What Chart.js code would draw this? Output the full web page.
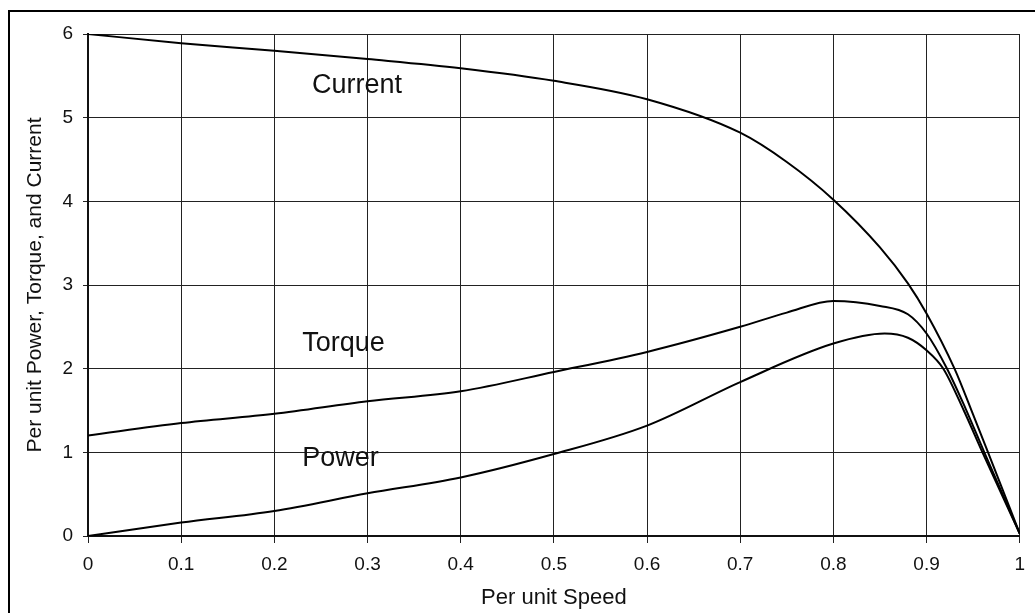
<!DOCTYPE html>
<html>
<head>
<meta charset="utf-8">
<script src="https://cdn.jsdelivr.net/npm/chart.js@4.4.1/dist/chart.umd.min.js"></script>
<style>
  body { margin: 0; background: #fff; }
  #wrap { position: relative; width: 1035px; height: 613px; overflow: hidden; }
  #frame { position: absolute; left: 8px; top: 10px; width: 1100px; height: 700px; border: 2px solid #000; }
  #mycanvas { position: absolute; left: 0; top: 0; }
</style>
</head>
<body>
<div id="wrap">
  <div id="frame"></div>
  <canvas id="mycanvas" width="1035" height="613"></canvas>
</div>
<script>
// values
var currentSpeed = [0, 0.1, 0.2, 0.3, 0.4, 0.5, 0.6, 0.7, 0.75, 0.8, 0.85, 0.88, 0.9, 0.93, 0.95, 0.966, 1.0];
var currentVals  = [6.0, 5.89, 5.8, 5.7, 5.59, 5.44, 5.22, 4.82, 4.47, 4.02, 3.45, 3.02, 2.66, 2.0, 1.45, 1.0, 0.03];

var torqueSpeed = [0, 0.1, 0.2, 0.3, 0.4, 0.5, 0.6, 0.7, 0.75, 0.8, 0.85, 0.88, 0.9, 0.922, 0.942, 0.962, 1.0];
var torqueVals  = [1.2, 1.35, 1.46, 1.61, 1.73, 1.96, 2.2, 2.5, 2.67, 2.81, 2.75, 2.65, 2.42, 2.0, 1.52, 1.0, 0.03];

var powerSpeed = [0, 0.1, 0.2, 0.3, 0.4, 0.5, 0.6, 0.7, 0.8, 0.855, 0.88, 0.9, 0.918, 0.94, 0.96, 1.0];
var powerVals  = [0, 0.16, 0.3, 0.51, 0.7, 0.98, 1.32, 1.84, 2.3, 2.42, 2.37, 2.22, 2.0, 1.5, 1.0, 0.03];

var xTickLabels = ['0', '0.1', '0.2', '0.3', '0.4', '0.5', '0.6', '0.7', '0.8', '0.9', '1'];
var yTickLabels = ['0', '1', '2', '3', '4', '5', '6'];

// curve names and where they sit (data units)
var curveNames = ['Current', 'Torque', 'Power'];
var nameAt = [[0.2405, 5.38], [0.23, 2.3], [0.23, 0.93]];

function pts(xs, ys) {
  var out = [];
  for (var i in xs) out.push({x: xs[i], y: ys[i]});
  return out;
}

var FONT = '"Liberation Sans", Arial, sans-serif';

var curveLabels = {
  id: 'curveLabels',
  afterDatasetsDraw: function(chart) {
    var c = chart.ctx, xs = chart.scales.x, ys = chart.scales.y;
    c.save();
    c.fillStyle = '#111';
    c.font = '27px ' + FONT;
    c.textAlign = 'left';
    c.textBaseline = 'middle';
    for (var i in curveNames) {
      c.fillText(curveNames[i], xs.getPixelForValue(nameAt[i][0]), ys.getPixelForValue(nameAt[i][1]));
    }
    c.restore();
  }
};

function line(label, data) {
  return {
    label: label,
    data: data,
    borderColor: '#000',
    borderWidth: 2,
    pointRadius: 0,
    fill: false,
    cubicInterpolationMode: 'monotone'
  };
}

var ctx = document.getElementById('mycanvas');
var chart = new Chart(ctx, {
  type: 'line',
  data: {
    datasets: [
      line('Current', pts(currentSpeed, currentVals)),
      line('Torque', pts(torqueSpeed, torqueVals)),
      line('Power', pts(powerSpeed, powerVals))
    ]
  },
  options: {
    responsive: false,
    animation: false,
    layout: {padding: {top: 34, right: 13, left: 0, bottom: 0}},
    plugins: {legend: {display: false}, tooltip: {enabled: false}},
    scales: {
      x: {
        type: 'linear', min: 0, max: 1,
        afterFit: function(s) { s.height = 77; },
        ticks: {
          stepSize: 0.1, color: '#111', padding: 10,
          font: {family: FONT, size: 19},
          callback: function(v, i) { return xTickLabels[i]; }
        },
        grid: {color: '#222', lineWidth: 1, tickLength: 7},
        border: {color: '#111', width: 2},
        title: {
          display: true, text: 'Per unit Speed', color: '#111',
          font: {family: FONT, size: 22, lineHeight: 1.2},
          padding: {top: 0, bottom: 2}
        }
      },
      y: {
        min: 0, max: 6,
        afterFit: function(s) { s.width = 88; },
        ticks: {
          stepSize: 1, color: '#111', padding: 10,
          font: {family: FONT, size: 19},
          callback: function(v, i) { return yTickLabels[i]; }
        },
        grid: {color: '#222', lineWidth: 1, tickLength: 5},
        border: {color: '#111', width: 2},
        title: {
          display: true, text: 'Per unit Power, Torque, and Current', color: '#111',
          font: {family: FONT, size: 21, lineHeight: 1.2},
          padding: {top: 23, bottom: 0}
        }
      }
    }
  },
  plugins: [curveLabels]
});
</script>
</body>
</html>
